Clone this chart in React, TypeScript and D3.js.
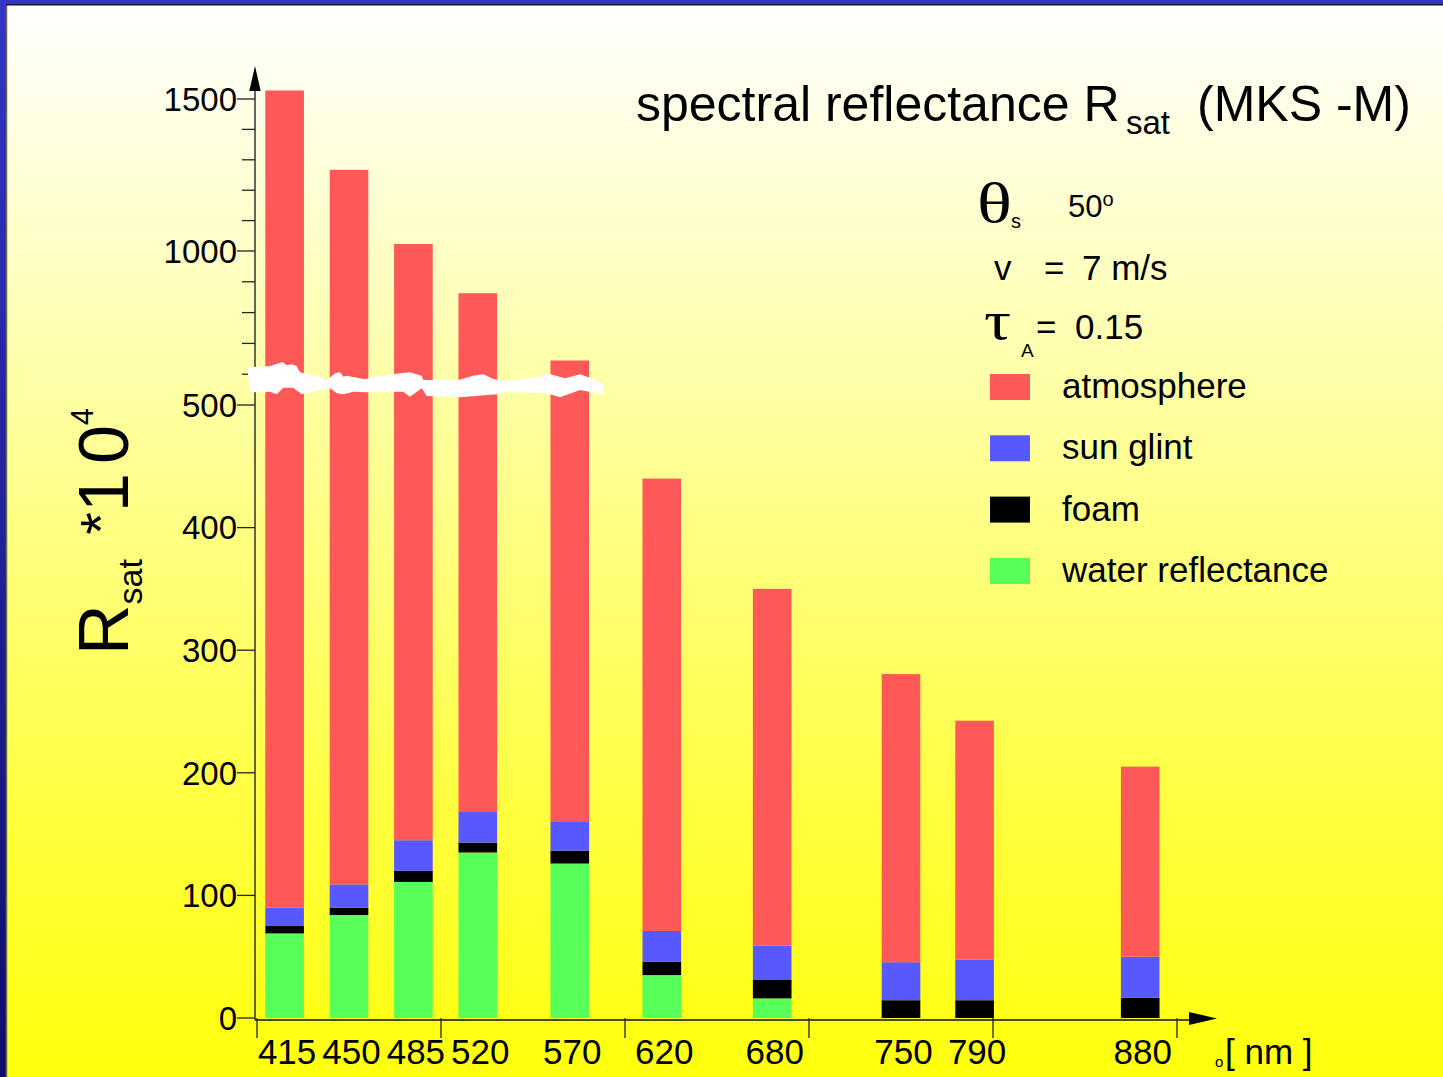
import React from "react";
import * as d3 from "d3";

// Spectral bands (nm) and the reflectance contributions (R_sat * 10^4)
const WAVELENGTHS = [415, 450, 485, 520, 570, 620, 680, 750, 790, 880];
const WATER = [69, 84, 111, 135, 126, 35, 16, 0, 0, 0];
const FOAM = [6, 6, 9, 8, 10.5, 11, 15, 14.5, 14.5, 16.5];
const GLINT = [15, 19, 25, 25, 24, 25, 28, 31, 33, 33.5];
const ATMOSPHERE = [1438, 1158, 878, 695, 484, 369, 291, 235, 195, 155];

const SERIES_KEYS = ["atmosphere", "glint", "foam", "water"];
const SERIES_LABELS = ["atmosphere", "sun glint", "foam", "water reflectance"];
const SERIES_COLORS = ["#ff5858", "#5858ff", "#000000", "#58ff58"];

const Y_MAJOR_TICKS = [0, 100, 200, 300, 400, 500, 1000, 1500];
const Y_MINOR_TICKS = [600, 700, 800, 900, 1100, 1200, 1300, 1400];
const X_TICKS = [400, 500, 600, 700, 800, 900];

const WIDTH = 1443;
const HEIGHT = 1077;
const SANS = '"Liberation Sans", Arial, Helvetica, sans-serif';
const SERIF = '"Liberation Serif", "Times New Roman", serif';

// Hand-drawn white band marking the break in the value axis
const BREAK_OUTLINE: [number, number][] = [
  [247.3, 367.3], [270, 366], [276.7, 364], [282.7, 362], [286.7, 365.3], [291.7, 364.3],
  [296.7, 366], [300, 372.3], [328.3, 379], [335, 373.3], [340, 372.3], [343.3, 376.7],
  [346.7, 375.7], [365, 379.3], [373.3, 376.7], [400, 373.3], [410, 372.3], [421.7, 375.7],
  [423.3, 380], [458.3, 380], [473.3, 375.7], [483.3, 374.3], [493.3, 379], [503.3, 381],
  [540, 376.7], [546.7, 373.3], [565, 378.3], [580, 374.3], [593.3, 379], [603.3, 384.3],
  [603.3, 394.3], [580, 390], [560, 397.3], [546.7, 393.3], [533.3, 392.7], [506.7, 392.3],
  [496.7, 394.3], [460, 397.3], [426.7, 396], [421.7, 388.3], [410, 396.7], [403.3, 391.7],
  [386.7, 391.7], [366.7, 392.3], [353.3, 391.7], [343.3, 394.3], [336.7, 393.3], [330, 388.3],
  [301.7, 394.3], [293.3, 387.7], [283.3, 387.7], [276.7, 394.3], [270, 391.7], [250, 392.3],
];

export default function App() {
  // wavelength axis and the broken (two-slope) reflectance axis
  const x = d3.scaleLinear().domain([400, 900]).range([257, 1177]);
  const y = d3.scaleLinear().domain([0, 500, 1000, 1500]).range([1018, 405, 251, 99]);
  const barW = x(421) - x(400);

  const rows = WAVELENGTHS.map((wl, i) => ({
    wl,
    water: WATER[i],
    foam: FOAM[i],
    glint: GLINT[i],
    atmosphere: ATMOSPHERE[i],
  }));
  const stackOrder = ["water", "foam", "glint", "atmosphere"];
  const stacked = d3.stack<any>().keys(stackOrder)(rows);
  const colorOf = (key: string) => SERIES_COLORS[SERIES_KEYS.indexOf(key)];

  const axisX = 255;
  const axisY = 1020;
  const breakPath = d3.line()(BREAK_OUTLINE) + "Z";

  const legendTop = 374;
  const legendStep = 61.3;

  return (
    <svg
      width={WIDTH}
      height={HEIGHT}
      viewBox={`0 0 ${WIDTH} ${HEIGHT}`}
      style={{ position: "absolute", left: 0, top: 0, display: "block" }}
    >
      <defs>
        <linearGradient id="frame" x1="0" y1="0" x2="0" y2="1">
          <stop offset="0" stopColor="#3434c6" />
          <stop offset="1" stopColor="#0e0e6a" />
        </linearGradient>
        <linearGradient id="panel" x1="0" y1="0" x2="0" y2="1">
          <stop offset="0" stopColor="#ffffff" />
          <stop offset="0.3" stopColor="#ffffb4" />
          <stop offset="0.75" stopColor="#ffff40" />
          <stop offset="1" stopColor="#ffff0c" />
        </linearGradient>
      </defs>

      {/* frame and panel */}
      <rect x={0} y={0} width={WIDTH} height={HEIGHT} fill="url(#frame)" />
      <rect x={7} y={5} width={WIDTH - 7} height={HEIGHT - 5} fill="url(#panel)" />
      <line x1={6.5} y1={5} x2={6.5} y2={HEIGHT} stroke="#6a6a50" strokeWidth={1.5} />
      <line x1={6} y1={4.8} x2={WIDTH} y2={4.8} stroke="#111" strokeWidth={1.2} />

      {/* stacked bars */}
      {stacked.map((layer) => (
        <g key={layer.key} fill={colorOf(layer.key)}>
          {layer.map((d, i) =>
            d[1] - d[0] > 0 ? (
              <rect
                key={i}
                x={x(WAVELENGTHS[i]) - barW / 2}
                y={y(d[1])}
                width={barW}
                height={y(d[0]) - y(d[1])}
              />
            ) : null
          )}
        </g>
      ))}

      {/* value axis */}
      <line x1={axisX} y1={80} x2={axisX} y2={axisY} stroke="#333" strokeWidth={1.5} />
      <path d={`M${axisX},66 L${axisX - 5.7},91 L${axisX + 5.7},91 Z`} fill="#000" />
      {Y_MAJOR_TICKS.map((t) => (
        <g key={t}>
          <line x1={237} x2={axisX} y1={y(t)} y2={y(t)} stroke="#222" strokeWidth={1.3} />
          <text
            x={237}
            y={y(t)}
            dy="0.36em"
            textAnchor="end"
            fontFamily={SANS}
            fontSize={33}
            fill="#000"
          >
            {t}
          </text>
        </g>
      ))}
      {Y_MINOR_TICKS.map((t) => (
        <line key={t} x1={242} x2={axisX} y1={y(t)} y2={y(t)} stroke="#222" strokeWidth={1.3} />
      ))}

      {/* axis break */}
      <path d={breakPath} fill="#ffffff" />

      {/* wavelength axis */}
      <line x1={axisX} y1={axisY} x2={1195} y2={axisY} stroke="#111" strokeWidth={1.5} />
      <path d={`M1217,${axisY - 1.5} L1189,${axisY - 8} L1189,${axisY + 5} Z`} fill="#000" />
      {X_TICKS.map((t) => (
        <line key={t} x1={x(t)} x2={x(t)} y1={1018} y2={1038} stroke="#222" strokeWidth={1.3} />
      ))}
      {WAVELENGTHS.map((wl) => (
        <text
          key={wl}
          x={x(wl) + 2.5}
          y={1064}
          textAnchor="middle"
          fontFamily={SANS}
          fontSize={35}
          fill="#000"
        >
          {wl}
        </text>
      ))}
      <text x={1215} y={1067} fontFamily={SANS} fontSize={15} fill="#000">o</text>
      <text x={1225} y={1064} fontFamily={SANS} fontSize={35} fill="#000" style={{ whiteSpace: "pre" }}>
        [ nm ]
      </text>

      {/* value axis title */}
      <text transform="translate(128,655) rotate(-90)" fontFamily={SANS} fill="#000" style={{ whiteSpace: "pre" }}>
        <tspan fontSize={70}>R</tspan>
        <tspan fontSize={34} dy={14}>sat</tspan>
        <tspan fontSize={70} dy={-14}> </tspan>
        <tspan fontSize={58} dx={5} dy={-7}>*</tspan>
        <tspan fontSize={70} dy={7}>1</tspan>
        <tspan fontSize={70} dx={9}>0</tspan>
        <tspan fontSize={31} dy={-35}>4</tspan>
      </text>

      {/* title */}
      <text y={121} fontFamily={SANS} fill="#000">
        <tspan x={636} fontSize={50}>spectral reflectance R</tspan>
        <tspan x={1126} dy={13} fontSize={33}>sat</tspan>
        <tspan x={1197} dy={-13} fontSize={50}>(MKS -M)</tspan>
      </text>

      {/* conditions */}
      <text
        transform="translate(977,222) scale(1.3,1)"
        fontFamily={SERIF}
        fontSize={56}
        fill="#000"
      >
        θ
      </text>
      <text x={1011} y={228} fontFamily={SANS} fontSize={20} fill="#000">s</text>
      <text x={1068} y={217} fontFamily={SANS} fontSize={31} fill="#000">
        50<tspan fontSize={20} dy={-11}>o</tspan>
      </text>
      <text x={994} y={280} fontFamily={SANS} fontSize={35} fill="#000">v</text>
      <text x={1044} y={280} fontFamily={SANS} fontSize={35} fill="#000">=</text>
      <text x={1082} y={280} fontFamily={SANS} fontSize={35} fill="#000">7 m/s</text>
      <text
        transform="translate(984,339) scale(1.25,1)"
        fontFamily={SERIF}
        fontSize={54}
        fill="#000"
      >
        τ
      </text>
      <text x={1021} y={357} fontFamily={SANS} fontSize={19} fill="#000">A</text>
      <text x={1036} y={339} fontFamily={SANS} fontSize={35} fill="#000">=</text>
      <text x={1075} y={339} fontFamily={SANS} fontSize={35} fill="#000">0.15</text>

      {/* legend */}
      {SERIES_LABELS.map((label, i) => (
        <g key={label}>
          <rect x={990} y={legendTop + i * legendStep} width={40} height={26} fill={SERIES_COLORS[i]} />
          <text
            x={1062}
            y={legendTop + i * legendStep + 24}
            fontFamily={SANS}
            fontSize={35}
            fill="#000"
          >
            {label}
          </text>
        </g>
      ))}
    </svg>
  );
}
